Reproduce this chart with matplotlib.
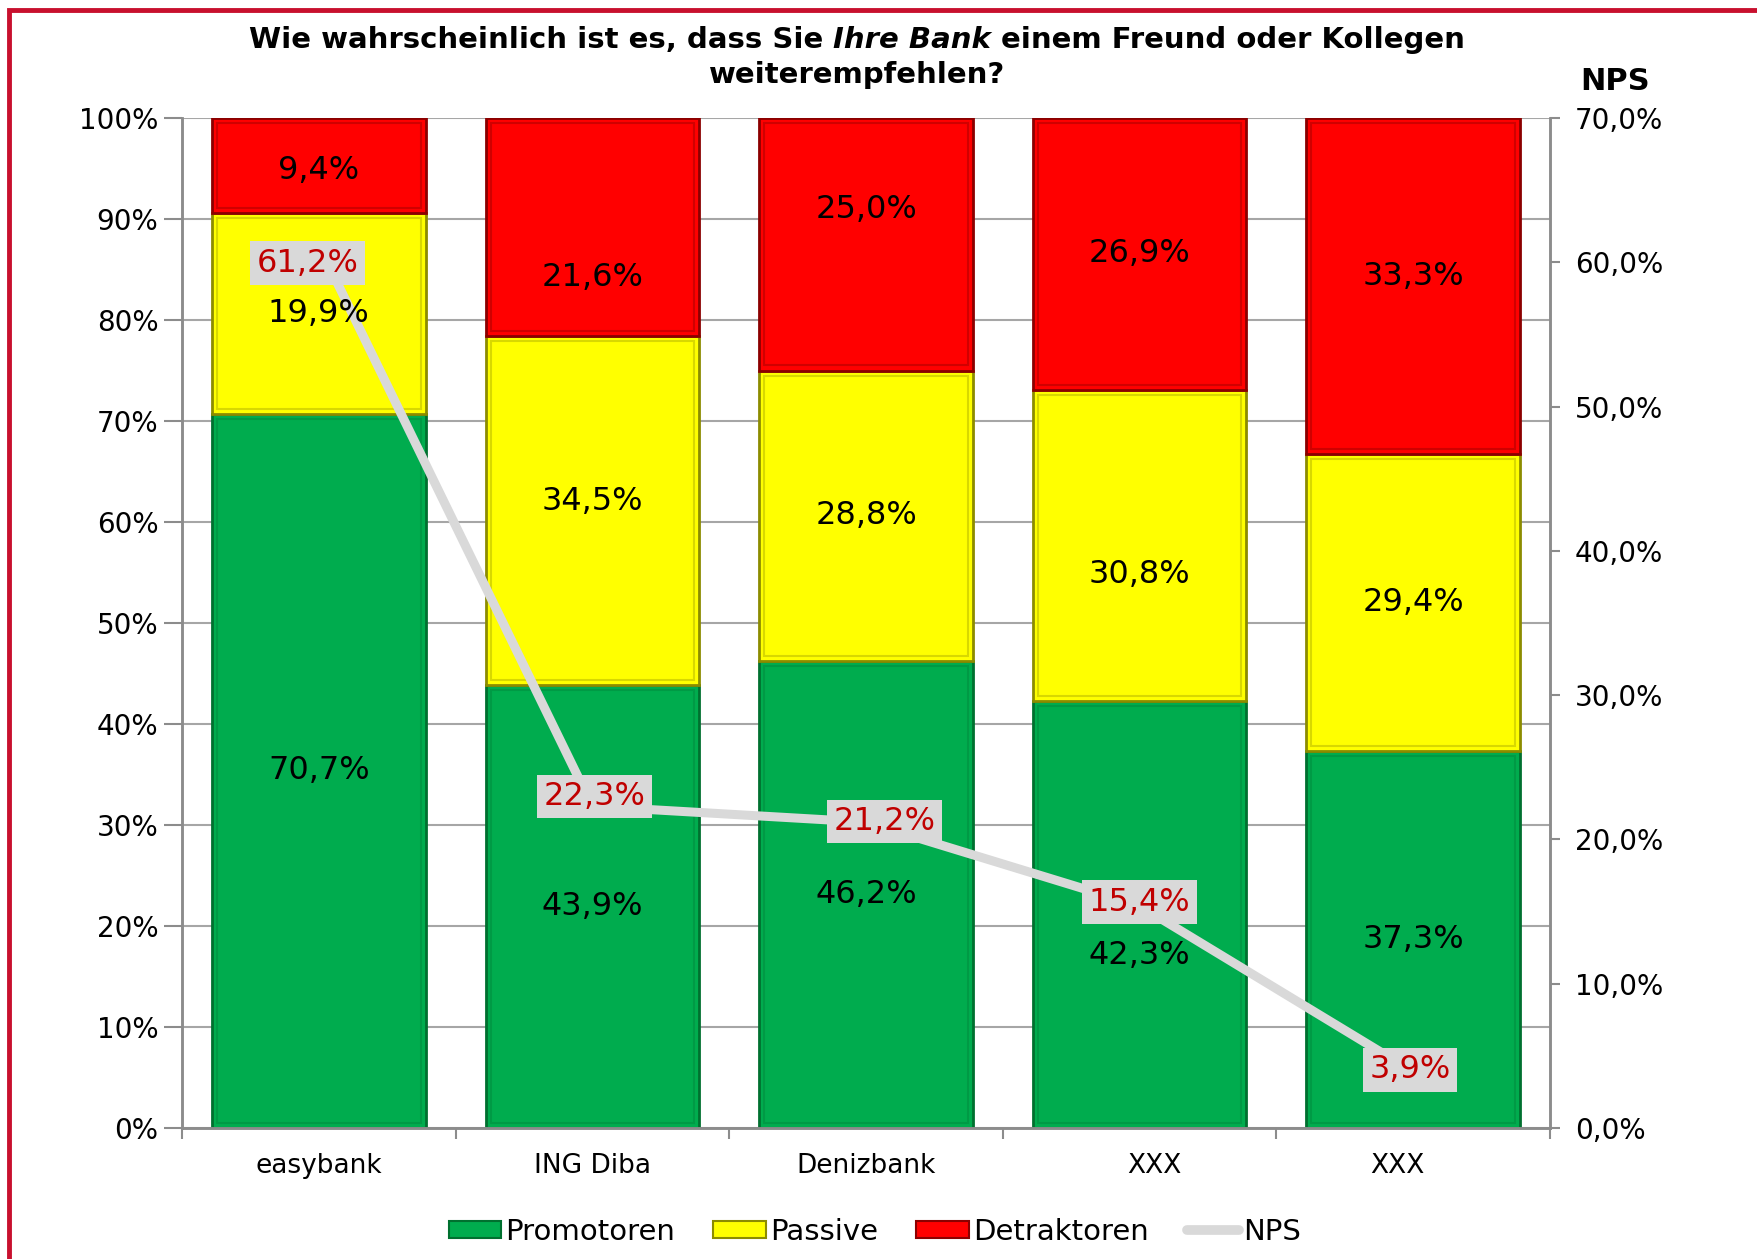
import matplotlib
matplotlib.use('Agg')
import matplotlib.pyplot as plt
import numpy as np
from matplotlib.patches import Rectangle
from matplotlib.lines import Line2D

# ---Daten
banken = ['easybank', 'ING Diba', 'Denizbank', 'XXX', 'XXX']
promotoren = [70.7, 43.9, 46.2, 42.3, 37.3]
passive = [19.9, 34.5, 28.8, 30.8, 29.4]
detraktoren = [9.4, 21.6, 25.0, 26.9, 33.3]
nps = [61.2, 22.3, 21.2, 15.4, 3.9]


def de(v, nd=1):
    # 61.2 -> "61,2%"
    return (('%.' + str(nd) + 'f%%') % v).replace('.', ',')


plt.rcParams['font.family'] = ['DejaVu Sans']
W, H = 1757, 1259
fig = plt.figure(figsize=(W / 100, H / 100), dpi=100)
ax = fig.add_axes([182 / W, 1 - 1128 / H, (1550 - 182) / W, (1128 - 118) / H])
ax2 = ax.twinx()

x = np.arange(len(banken))
bw = 0.78
farben = [('#00AC4E', '#00702F', '#009A45'),
          ('#FFFF00', '#8C8C00', '#D8D800'),
          ('#FF0000', '#8B0000', '#D00000')]
serien = [promotoren, passive, detraktoren]
namen = ['Promotoren', 'Passive', 'Detraktoren']
# manuelle Verschiebung der Beschriftungen (in Prozentpunkten)
label_dy = [[0, 0, 0, -4.1, 0],
            [0, 0.9, 0, -2.9, 0],
            [-0.5, -5.0, 3.4, 0, 1.0]]

unten = np.zeros(len(banken))
for k, (werte, (fc, ec, ic)) in enumerate(zip(serien, farben)):
    werte = np.array(werte)
    ax.bar(x, werte, bw, bottom=unten, color=fc, edgecolor=ec, linewidth=2, zorder=2)
    # innere Kante (Bevel-Effekt)
    ax.bar(x, werte - 1.0, bw - 0.036, bottom=unten + 0.5, color='none',
           edgecolor=ic, linewidth=1.5, zorder=3)
    for i in range(len(banken)):
        ax2.text(x[i], unten[i] + werte[i] / 2 + label_dy[k][i], de(werte[i]),
                 transform=ax.transData, ha='center', va='center', fontsize=23,
                 color='black', zorder=6)
    unten = unten + werte

# ---NPS-Linie
ax2.plot(x, nps, color='#D9D9D9', lw=6.5, solid_capstyle='butt', zorder=3)
versatz = [(-8, -13), (1.5, 7), (13.5, 0.5), (0, 2.5), (-2, 1.5)]
for i, v in enumerate(nps):
    ax2.annotate(de(v), (x[i], v), xytext=versatz[i], textcoords='offset points',
                 ha='center', va='center', fontsize=23, color='#C00000', zorder=7,
                 bbox=dict(boxstyle='square,pad=0.2', fc='#D9D9D9', ec='none'))

# ---Achsen
grau = '#8C8C8C'
ax.set_xlim(-0.5, len(banken) - 0.5)
ax.set_ylim(0, 100)
ax.set_yticks(np.arange(0, 101, 10))
ax.set_yticklabels(['%d%%' % v for v in range(0, 101, 10)])
ax.yaxis.grid(True, color='#A6A6A6', lw=1.5)
ax.set_axisbelow(True)
ax.set_xticks(np.arange(-0.5, len(banken), 1))
ax.set_xticklabels([])
ax.tick_params(axis='y', length=13, width=1.5, color=grau, pad=4, labelsize=20)
ax.tick_params(axis='x', length=8, width=1.5, color=grau)

ax2.set_ylim(0, 70)
ax2.set_yticks(np.arange(0, 71, 10))
ax2.set_yticklabels([de(v) for v in range(0, 71, 10)])
ax2.tick_params(axis='y', length=7, width=1.5, color=grau, pad=11, labelsize=20)

for a in (ax, ax2):
    a.spines['top'].set_visible(False)
    for s in ('left', 'right', 'bottom'):
        a.spines[s].set_color(grau)
        a.spines[s].set_linewidth(1.8)

label_dx = [0, 0, 0, 0.053, -0.057]
for i, name in enumerate(banken):
    ax.text(x[i] + label_dx[i], -0.0375, name, transform=ax.get_xaxis_transform(),
            ha='center', va='center', fontsize=19)

# ---Titel (mit kursivem Teil)
tsize = 21
teile = [('Wie wahrscheinlich ist es, dass Sie', 'normal'),
         ('Ihre Bank', 'italic'),
         ('einem Freund oder Kollegen', 'normal')]
ty = 1 - 40 / H
texte = [fig.text(0, ty, t, fontsize=tsize, fontweight='bold', style=st, va='center')
         for t, st in teile]
r = fig.canvas.get_renderer()
probe1 = fig.text(0, 0, 'a a', fontsize=tsize, fontweight='bold')
probe2 = fig.text(0, 0, 'aa', fontsize=tsize, fontweight='bold')
leer = probe1.get_window_extent(r).width - probe2.get_window_extent(r).width
probe1.remove()
probe2.remove()
breiten = [t.get_window_extent(r).width for t in texte]
gesamt = sum(breiten) + leer * (len(texte) - 1)
xpos = 857 - gesamt / 2
for t, b in zip(texte, breiten):
    t.set_x(xpos / W)
    xpos += b + leer
fig.text(857 / W, 1 - 75 / H, 'weiterempfehlen?', fontsize=tsize, fontweight='bold',
         ha='center', va='center')
fig.text(1615 / W, 1 - 82 / H, 'NPS', fontsize=22, fontweight='bold',
         ha='center', va='center')

# ---Legende
handles = [Rectangle((0, 0), 1, 1, fc=fc, ec=ec, lw=1.5) for fc, ec, ic in farben]
handles.append(Line2D([0], [0], color='#D9D9D9', lw=7, solid_capstyle='round'))
fig.legend(handles, namen + ['NPS'], loc='center', bbox_to_anchor=(875 / W, 1 - 1232 / H),
           ncol=4, frameon=False, fontsize=21, handlelength=1.8, handleheight=0.55,
           handletextpad=0.15, columnspacing=1.3)

# ---roter Rahmen
fig.patches.append(Rectangle((9 / W, -0.1), 2, 1.1 - 10 / H, fill=False,
                             ec='#C8102E', lw=3.5, transform=fig.transFigure))

fig.savefig('out.png', dpi=100)
